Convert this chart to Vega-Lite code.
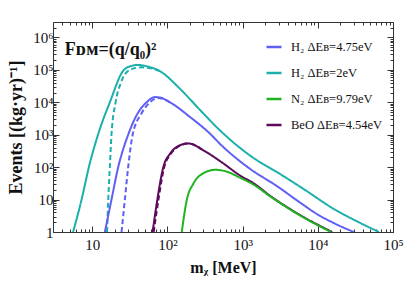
{
  "$schema": "https://vega.github.io/schema/vega-lite/v6.json",
  "width": 340,
  "height": 210,
  "autosize": {"type": "none"},
  "padding": {"left": 53, "top": 22, "right": 14, "bottom": 49},
  "background": "white",
  "config": {
    "view": {"stroke": "#333", "strokeWidth": 1},
    "font": "Liberation Serif"
  },
  "data": {
    "values": [
      {"s": "H₂ ΔEʙ=2eV", "d": "solid", "m": 5.55, "e": 1},
      {"s": "H₂ ΔEʙ=2eV", "d": "solid", "m": 7.2, "e": 10},
      {"s": "H₂ ΔEʙ=2eV", "d": "solid", "m": 9.0, "e": 100},
      {"s": "H₂ ΔEʙ=2eV", "d": "solid", "m": 11.9, "e": 1000},
      {"s": "H₂ ΔEʙ=2eV", "d": "solid", "m": 17.1, "e": 10000},
      {"s": "H₂ ΔEʙ=2eV", "d": "solid", "m": 26.3, "e": 100000},
      {"s": "H₂ ΔEʙ=2eV", "d": "solid", "m": 33, "e": 132000},
      {"s": "H₂ ΔEʙ=2eV", "d": "solid", "m": 40, "e": 142000},
      {"s": "H₂ ΔEʙ=2eV", "d": "solid", "m": 50, "e": 133000},
      {"s": "H₂ ΔEʙ=2eV", "d": "solid", "m": 79, "e": 92000},
      {"s": "H₂ ΔEʙ=2eV", "d": "solid", "m": 147, "e": 26000},
      {"s": "H₂ ΔEʙ=2eV", "d": "solid", "m": 271, "e": 5800},
      {"s": "H₂ ΔEʙ=2eV", "d": "solid", "m": 501, "e": 1350},
      {"s": "H₂ ΔEʙ=2eV", "d": "solid", "m": 1300, "e": 215},
      {"s": "H₂ ΔEʙ=2eV", "d": "solid", "m": 3200, "e": 60},
      {"s": "H₂ ΔEʙ=2eV", "d": "solid", "m": 6500, "e": 21},
      {"s": "H₂ ΔEʙ=2eV", "d": "solid", "m": 16200, "e": 5.2},
      {"s": "H₂ ΔEʙ=2eV", "d": "solid", "m": 35000, "e": 2.0},
      {"s": "H₂ ΔEʙ=2eV", "d": "solid", "m": 65000, "e": 1},

      {"s": "H₂ ΔEʙ=2eV", "d": "dashed", "m": 15.7, "e": 1},
      {"s": "H₂ ΔEʙ=2eV", "d": "dashed", "m": 16.3, "e": 10},
      {"s": "H₂ ΔEʙ=2eV", "d": "dashed", "m": 17.1, "e": 100},
      {"s": "H₂ ΔEʙ=2eV", "d": "dashed", "m": 18.0, "e": 1000},
      {"s": "H₂ ΔEʙ=2eV", "d": "dashed", "m": 20.4, "e": 10000},
      {"s": "H₂ ΔEʙ=2eV", "d": "dashed", "m": 24, "e": 40000},
      {"s": "H₂ ΔEʙ=2eV", "d": "dashed", "m": 31.6, "e": 100000},
      {"s": "H₂ ΔEʙ=2eV", "d": "dashed", "m": 45, "e": 120000},
      {"s": "H₂ ΔEʙ=2eV", "d": "dashed", "m": 60, "e": 112000},
      {"s": "H₂ ΔEʙ=2eV", "d": "dashed", "m": 79, "e": 92000},

      {"s": "H₂ ΔEʙ=4.75eV", "d": "solid", "m": 14.7, "e": 1},
      {"s": "H₂ ΔEʙ=4.75eV", "d": "solid", "m": 18, "e": 10},
      {"s": "H₂ ΔEʙ=4.75eV", "d": "solid", "m": 22.1, "e": 100},
      {"s": "H₂ ΔEʙ=4.75eV", "d": "solid", "m": 30, "e": 1000},
      {"s": "H₂ ΔEʙ=4.75eV", "d": "solid", "m": 40, "e": 4500},
      {"s": "H₂ ΔEʙ=4.75eV", "d": "solid", "m": 52.7, "e": 10000},
      {"s": "H₂ ΔEʙ=4.75eV", "d": "solid", "m": 68, "e": 14500},
      {"s": "H₂ ΔEʙ=4.75eV", "d": "solid", "m": 80, "e": 14000},
      {"s": "H₂ ΔEʙ=4.75eV", "d": "solid", "m": 108, "e": 10000},
      {"s": "H₂ ΔEʙ=4.75eV", "d": "solid", "m": 200, "e": 3500},
      {"s": "H₂ ΔEʙ=4.75eV", "d": "solid", "m": 369, "e": 1070},
      {"s": "H₂ ΔEʙ=4.75eV", "d": "solid", "m": 501, "e": 520},
      {"s": "H₂ ΔEʙ=4.75eV", "d": "solid", "m": 1260, "e": 88},
      {"s": "H₂ ΔEʙ=4.75eV", "d": "solid", "m": 2860, "e": 26},
      {"s": "H₂ ΔEʙ=4.75eV", "d": "solid", "m": 5840, "e": 8},
      {"s": "H₂ ΔEʙ=4.75eV", "d": "solid", "m": 9700, "e": 3.6},
      {"s": "H₂ ΔEʙ=4.75eV", "d": "solid", "m": 16200, "e": 1.9},
      {"s": "H₂ ΔEʙ=4.75eV", "d": "solid", "m": 30000, "e": 1},

      {"s": "H₂ ΔEʙ=4.75eV", "d": "dashed", "m": 24.5, "e": 1},
      {"s": "H₂ ΔEʙ=4.75eV", "d": "dashed", "m": 27.1, "e": 10},
      {"s": "H₂ ΔEʙ=4.75eV", "d": "dashed", "m": 30, "e": 100},
      {"s": "H₂ ΔEʙ=4.75eV", "d": "dashed", "m": 34.4, "e": 1000},
      {"s": "H₂ ΔEʙ=4.75eV", "d": "dashed", "m": 45, "e": 4500},
      {"s": "H₂ ΔEʙ=4.75eV", "d": "dashed", "m": 58.4, "e": 10000},
      {"s": "H₂ ΔEʙ=4.75eV", "d": "dashed", "m": 75, "e": 13500},
      {"s": "H₂ ΔEʙ=4.75eV", "d": "dashed", "m": 90, "e": 12500},
      {"s": "H₂ ΔEʙ=4.75eV", "d": "dashed", "m": 108, "e": 10000},

      {"s": "BeO ΔEʙ=4.54eV", "d": "solid", "m": 63.4, "e": 1},
      {"s": "BeO ΔEʙ=4.54eV", "d": "solid", "m": 73, "e": 9.4},
      {"s": "BeO ΔEʙ=4.54eV", "d": "solid", "m": 88, "e": 100},
      {"s": "BeO ΔEʙ=4.54eV", "d": "solid", "m": 108, "e": 258},
      {"s": "BeO ΔEʙ=4.54eV", "d": "solid", "m": 140, "e": 450},
      {"s": "BeO ΔEʙ=4.54eV", "d": "solid", "m": 190, "e": 540},
      {"s": "BeO ΔEʙ=4.54eV", "d": "solid", "m": 300, "e": 330},
      {"s": "BeO ΔEʙ=4.54eV", "d": "solid", "m": 530, "e": 140},
      {"s": "BeO ΔEʙ=4.54eV", "d": "solid", "m": 926, "e": 55},
      {"s": "BeO ΔEʙ=4.54eV", "d": "solid", "m": 1393, "e": 32},
      {"s": "BeO ΔEʙ=4.54eV", "d": "solid", "m": 2330, "e": 13},
      {"s": "BeO ΔEʙ=4.54eV", "d": "solid", "m": 5840, "e": 3.3},
      {"s": "BeO ΔEʙ=4.54eV", "d": "solid", "m": 15500, "e": 1},

      {"s": "BeO ΔEʙ=4.54eV", "d": "dashed", "m": 65.5, "e": 1},
      {"s": "BeO ΔEʙ=4.54eV", "d": "dashed", "m": 75.5, "e": 9.4},
      {"s": "BeO ΔEʙ=4.54eV", "d": "dashed", "m": 90.5, "e": 100},
      {"s": "BeO ΔEʙ=4.54eV", "d": "dashed", "m": 111, "e": 258},
      {"s": "BeO ΔEʙ=4.54eV", "d": "dashed", "m": 143, "e": 445},
      {"s": "BeO ΔEʙ=4.54eV", "d": "dashed", "m": 192, "e": 535},
      {"s": "BeO ΔEʙ=4.54eV", "d": "dashed", "m": 300, "e": 330},

      {"s": "N₂ ΔEʙ=9.79eV", "d": "solid", "m": 155, "e": 1},
      {"s": "N₂ ΔEʙ=9.79eV", "d": "solid", "m": 180, "e": 9.4},
      {"s": "N₂ ΔEʙ=9.79eV", "d": "solid", "m": 221, "e": 31},
      {"s": "N₂ ΔEʙ=9.79eV", "d": "solid", "m": 300, "e": 65},
      {"s": "N₂ ΔEʙ=9.79eV", "d": "solid", "m": 430, "e": 83},
      {"s": "N₂ ΔEʙ=9.79eV", "d": "solid", "m": 600, "e": 74},
      {"s": "N₂ ΔEʙ=9.79eV", "d": "solid", "m": 926, "e": 47},
      {"s": "N₂ ΔEʙ=9.79eV", "d": "solid", "m": 1393, "e": 29},
      {"s": "N₂ ΔEʙ=9.79eV", "d": "solid", "m": 2330, "e": 12.5},
      {"s": "N₂ ΔEʙ=9.79eV", "d": "solid", "m": 5840, "e": 3.2},
      {"s": "N₂ ΔEʙ=9.79eV", "d": "solid", "m": 15000, "e": 1}
    ]
  },
  "layer": [
    {
      "mark": {"type": "line", "strokeWidth": 2, "clip": true, "interpolate": "monotone"},
      "encoding": {
        "x": {
          "field": "m", "type": "quantitative",
          "scale": {"type": "log", "domain": [3, 100000], "nice": false},
          "axis": {
            "orient": "bottom",
            "values": [3,4,5,6,7,8,9,10,20,30,40,50,60,70,80,90,100,200,300,400,500,600,700,800,900,1000,2000,3000,4000,5000,6000,7000,8000,9000,10000,20000,30000,40000,50000,60000,70000,80000,90000,100000],
            "labelExpr": "datum.value == 10 ? '10' : datum.value == 100 ? '10²' : datum.value == 1000 ? '10³' : datum.value == 10000 ? '10⁴' : datum.value == 100000 ? '10⁵' : ''",
            "tickSize": {"condition": {"test": "indexof([10,100,1000,10000,100000], datum.value) >= 0", "value": -6}, "value": -3},
            "tickColor": "#333",
            "domain": false,
            "grid": false,
            "labelFont": "Liberation Serif",
            "labelFontSize": 15,
            "labelColor": "#111",
            "labelPadding": 11,
            "labelFlush": false,
            "labelOverlap": false,
            "title": "mᵪ [MeV]",
            "titleFont": "Liberation Serif",
            "titleFontSize": 16,
            "titleFontWeight": "bold",
            "titleColor": "#111",
            "titlePadding": 4
          }
        },
        "y": {
          "field": "e", "type": "quantitative",
          "scale": {"type": "log", "domain": [1, 3000000], "nice": false},
          "axis": {
            "orient": "left",
            "values": [1,2,3,4,5,6,7,8,9,10,20,30,40,50,60,70,80,90,100,200,300,400,500,600,700,800,900,1000,2000,3000,4000,5000,6000,7000,8000,9000,10000,20000,30000,40000,50000,60000,70000,80000,90000,100000,200000,300000,400000,500000,600000,700000,800000,900000,1000000,2000000],
            "labelExpr": "datum.value == 1 ? '1' : datum.value == 10 ? '10' : datum.value == 100 ? '10²' : datum.value == 1000 ? '10³' : datum.value == 10000 ? '10⁴' : datum.value == 100000 ? '10⁵' : datum.value == 1000000 ? '10⁶' : ''",
            "tickSize": {"condition": {"test": "indexof([1,10,100,1000,10000,100000,1000000], datum.value) >= 0", "value": -6}, "value": -3},
            "tickColor": "#333",
            "domain": false,
            "grid": false,
            "labelFont": "Liberation Serif",
            "labelFontSize": 15,
            "labelColor": "#111",
            "labelPadding": 6,
            "labelFlush": false,
            "labelOverlap": false,
            "title": "Events [(kg·yr)⁻¹]",
            "titleFont": "Liberation Serif",
            "titleFontSize": 18,
            "titleFontWeight": "bold",
            "titleColor": "#111",
            "titlePadding": 7
          }
        },
        "color": {
          "field": "s", "type": "nominal",
          "scale": {
            "domain": ["H₂ ΔEʙ=4.75eV", "H₂ ΔEʙ=2eV", "N₂ ΔEʙ=9.79eV", "BeO ΔEʙ=4.54eV"],
            "range": ["#5f5ff5", "#1bb0ab", "#1fb41f", "#5c0a5a"]
          },
          "legend": {
            "orient": "none",
            "legendX": 212,
            "legendY": 16,
            "title": null,
            "padding": 0,
            "symbolType": "stroke",
            "symbolSize": 225,
            "symbolStrokeWidth": 2.5,
            "labelFont": "Liberation Serif",
            "labelFontSize": 12.5,
            "labelColor": "#111",
            "labelOffset": 8,
            "rowPadding": 10
          }
        },
        "strokeDash": {
          "field": "d", "type": "nominal",
          "scale": {"domain": ["solid", "dashed"], "range": [[1, 0], [5, 3]]},
          "legend": null
        }
      }
    },
    {
      "mark": {"type": "point", "opacity": 0},
      "encoding": {
        "x": {
          "field": "m", "type": "quantitative",
          "scale": {"type": "log", "domain": [3, 100000], "nice": false},
          "axis": {
            "orient": "top",
            "values": [3,4,5,6,7,8,9,10,20,30,40,50,60,70,80,90,100,200,300,400,500,600,700,800,900,1000,2000,3000,4000,5000,6000,7000,8000,9000,10000,20000,30000,40000,50000,60000,70000,80000,90000,100000],
            "labels": false,
            "title": null,
            "tickSize": {"condition": {"test": "indexof([10,100,1000,10000,100000], datum.value) >= 0", "value": -6}, "value": -3},
            "tickColor": "#333",
            "domain": false,
            "grid": false
          }
        },
        "y": {
          "field": "e", "type": "quantitative",
          "scale": {"type": "log", "domain": [1, 3000000], "nice": false},
          "axis": {
            "orient": "right",
            "values": [1,2,3,4,5,6,7,8,9,10,20,30,40,50,60,70,80,90,100,200,300,400,500,600,700,800,900,1000,2000,3000,4000,5000,6000,7000,8000,9000,10000,20000,30000,40000,50000,60000,70000,80000,90000,100000,200000,300000,400000,500000,600000,700000,800000,900000,1000000,2000000],
            "labels": false,
            "title": null,
            "tickSize": {"condition": {"test": "indexof([1,10,100,1000,10000,100000,1000000], datum.value) >= 0", "value": -6}, "value": -3},
            "tickColor": "#333",
            "domain": false,
            "grid": false
          }
        }
      }
    },
    {
      "data": {"values": [{"t": "Fᴅᴍ=(q/q₀)²", "m": 4.3, "e": 290000}]},
      "mark": {"type": "text", "align": "left", "baseline": "alphabetic", "font": "Liberation Serif", "fontSize": 18, "fontWeight": "bold", "color": "#111"},
      "encoding": {
        "x": {"field": "m", "type": "quantitative", "scale": {"type": "log", "domain": [3, 100000], "nice": false}, "axis": null},
        "y": {"field": "e", "type": "quantitative", "scale": {"type": "log", "domain": [1, 3000000], "nice": false}, "axis": null},
        "text": {"field": "t"}
      }
    }
  ],
  "resolve": {"axis": {"x": "independent", "y": "independent"}}
}
